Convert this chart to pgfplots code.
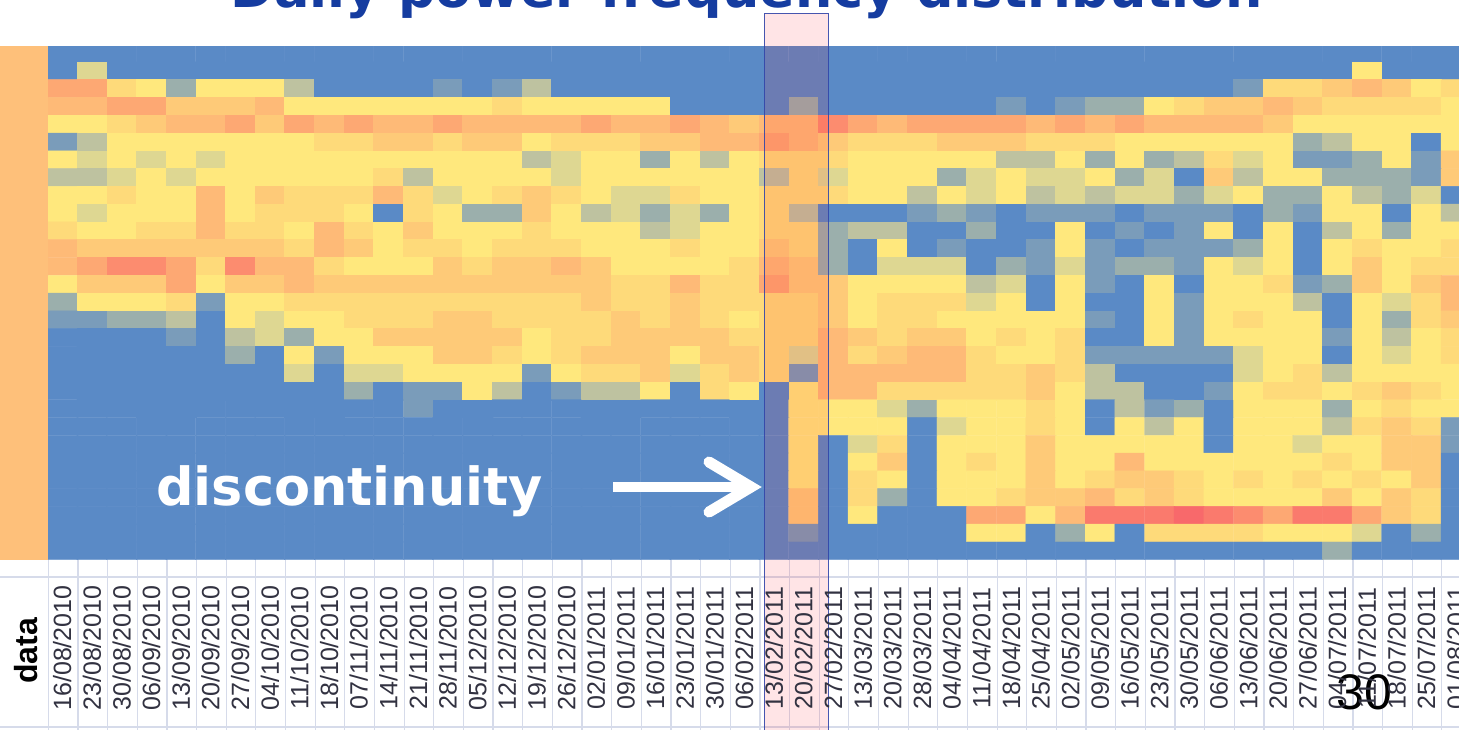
\documentclass[border=0pt]{standalone}
\usepackage{fontspec}
\usepackage{pgfplots}
\pgfplotsset{compat=1.18}
\setmainfont{Liberation Sans}
\newfontfamily\vd{DejaVu Sans}
\definecolor{titleblue}{RGB}{21,60,160}
\definecolor{band}{RGB}{254,192,122}
\definecolor{gridc}{RGB}{214,219,234}
\definecolor{hlfill}{RGB}{255,12,30}
\definecolor{hlline}{RGB}{50,70,170}
\definecolor{datec}{RGB}{50,50,65}
\begin{document}
\begin{tikzpicture}
\path[use as bounding box, clip] (0,0) rectangle (1459pt,730pt);
\begin{axis}[
  scale only axis, width=1459pt, height=730pt,
  xmin=0, xmax=1459, ymin=0, ymax=730, y dir=reverse,
  axis line style={draw=none}, major tick length=0pt,
  xtick={48.3,77.95,...,1459}, ytick={577,727}, xticklabels={}, yticklabels={},
  xmajorgrids, ymajorgrids, grid style={gridc, line width=1.2pt},
  colormap={excel}{rgb255=(90,138,198) rgb255=(122,156,186) rgb255=(155,175,172)
    rgb255=(190,194,160) rgb255=(222,215,146) rgb255=(255,232,125) rgb255=(254,218,122)
    rgb255=(254,202,120) rgb255=(254,186,119) rgb255=(253,168,115) rgb255=(252,140,111)
    rgb255=(250,122,109) rgb255=(248,105,107)},
  point meta min=0, point meta max=12,
]
% heat map, one line per power bin, 48 weeks
\addplot[matrix plot*, mesh/cols=48, point meta=explicit] table[row sep=crcr, header=false,
  x expr={62.3+29.65*mod(\coordindex,48)}, y expr={53+17.78*floor((\coordindex+0.5)/48)}, meta index=0] {
0\\0\\0\\0\\0\\0\\0\\0\\0\\0\\0\\0\\0\\0\\0\\0\\0\\0\\0\\0\\0\\0\\0\\0\\0\\0\\0\\0\\0\\0\\0\\0\\0\\0\\0\\0\\0\\0\\0\\0\\0\\0\\0\\0\\0\\0\\0\\0\\
0\\4\\0\\0\\0\\0\\0\\0\\0\\0\\0\\0\\0\\0\\0\\0\\0\\0\\0\\0\\0\\0\\0\\0\\0\\0\\0\\0\\0\\0\\0\\0\\0\\0\\0\\0\\0\\0\\0\\0\\0\\0\\0\\0\\5\\0\\0\\0\\
9\\9\\6\\5\\2\\5\\5\\5\\3\\0\\0\\0\\0\\1\\0\\1\\3\\0\\0\\0\\0\\0\\0\\0\\0\\0\\0\\0\\0\\0\\0\\0\\0\\0\\0\\0\\0\\0\\0\\0\\1\\6\\6\\7\\8\\7\\5\\6\\
8\\8\\9\\9\\7\\7\\7\\8\\5\\5\\5\\5\\5\\5\\5\\6\\5\\5\\5\\5\\5\\0\\0\\0\\0\\2\\0\\0\\0\\0\\0\\0\\1\\0\\1\\2\\2\\5\\6\\7\\7\\8\\7\\6\\6\\6\\6\\5\\
5\\5\\6\\7\\8\\8\\9\\7\\9\\8\\9\\8\\8\\9\\8\\8\\8\\8\\9\\8\\8\\9\\8\\7\\8\\8\\10\\9\\8\\9\\9\\9\\9\\8\\9\\8\\9\\8\\8\\8\\8\\7\\5\\5\\5\\5\\5\\5\\
1\\3\\5\\5\\5\\5\\5\\5\\5\\6\\6\\7\\7\\6\\7\\7\\5\\6\\6\\6\\7\\7\\8\\8\\9\\8\\7\\6\\6\\6\\7\\7\\7\\6\\6\\6\\5\\5\\5\\5\\5\\5\\2\\3\\5\\5\\0\\5\\
5\\4\\5\\4\\5\\4\\5\\5\\5\\5\\5\\5\\5\\5\\5\\5\\3\\4\\5\\5\\2\\5\\3\\5\\6\\6\\6\\5\\5\\5\\5\\5\\3\\3\\5\\2\\5\\2\\3\\6\\4\\5\\1\\1\\2\\5\\1\\7\\
3\\3\\4\\5\\4\\5\\5\\5\\5\\5\\5\\6\\3\\5\\5\\5\\5\\4\\5\\5\\5\\5\\5\\5\\3\\6\\4\\5\\5\\5\\2\\4\\5\\4\\4\\5\\2\\4\\0\\7\\3\\5\\5\\2\\2\\2\\1\\7\\
5\\5\\6\\5\\5\\8\\5\\7\\6\\6\\6\\8\\6\\4\\5\\6\\7\\6\\5\\4\\4\\6\\5\\5\\6\\6\\6\\5\\5\\3\\5\\4\\5\\3\\4\\3\\4\\4\\2\\4\\5\\2\\2\\5\\3\\2\\4\\0\\
5\\4\\5\\5\\5\\8\\5\\6\\6\\6\\5\\0\\6\\5\\2\\2\\7\\5\\3\\4\\2\\4\\2\\5\\6\\3\\0\\0\\0\\1\\2\\1\\0\\1\\1\\1\\0\\1\\1\\1\\0\\2\\1\\5\\5\\0\\5\\3\\
6\\5\\5\\6\\6\\8\\6\\6\\5\\8\\6\\5\\7\\5\\5\\5\\6\\5\\5\\5\\3\\4\\5\\5\\6\\6\\2\\3\\3\\0\\0\\2\\0\\0\\5\\0\\1\\0\\1\\5\\0\\5\\0\\3\\5\\2\\5\\5\\
8\\7\\7\\7\\7\\7\\7\\7\\6\\8\\7\\5\\6\\6\\5\\6\\6\\6\\5\\5\\5\\6\\5\\5\\7\\6\\2\\0\\5\\0\\1\\0\\0\\1\\5\\1\\0\\1\\1\\1\\2\\5\\0\\5\\6\\5\\5\\6\\
8\\9\\10\\10\\9\\6\\10\\8\\8\\6\\5\\5\\5\\7\\6\\7\\7\\8\\7\\5\\5\\5\\5\\6\\8\\7\\2\\0\\4\\4\\4\\0\\2\\1\\4\\1\\2\\2\\1\\5\\4\\5\\0\\5\\7\\5\\6\\6\\
5\\7\\7\\7\\9\\5\\7\\7\\8\\7\\7\\7\\7\\7\\7\\7\\7\\7\\7\\6\\6\\8\\6\\6\\9\\7\\7\\5\\5\\5\\5\\3\\4\\0\\5\\1\\0\\5\\0\\5\\5\\6\\1\\2\\7\\5\\7\\8\\
2\\5\\5\\5\\6\\1\\5\\5\\6\\6\\6\\6\\6\\6\\6\\6\\6\\6\\7\\6\\6\\7\\6\\6\\6\\6\\7\\5\\6\\6\\6\\4\\5\\0\\5\\0\\0\\5\\1\\5\\5\\5\\3\\0\\5\\4\\6\\8\\
1\\1\\2\\2\\3\\0\\5\\4\\5\\5\\6\\6\\6\\7\\7\\6\\6\\6\\6\\7\\6\\7\\6\\5\\6\\6\\7\\5\\6\\6\\5\\5\\5\\5\\5\\1\\0\\5\\1\\5\\6\\5\\5\\0\\5\\2\\6\\7\\
0\\0\\0\\0\\1\\0\\3\\4\\2\\5\\5\\7\\7\\7\\7\\7\\5\\6\\6\\7\\7\\7\\7\\6\\6\\6\\8\\7\\6\\7\\7\\5\\6\\5\\6\\0\\0\\5\\1\\5\\5\\5\\5\\1\\5\\3\\5\\6\\
0\\0\\0\\0\\0\\0\\2\\0\\5\\1\\5\\5\\5\\7\\7\\6\\5\\6\\7\\7\\7\\5\\7\\7\\6\\4\\8\\6\\7\\8\\8\\6\\5\\5\\6\\1\\1\\1\\1\\1\\4\\5\\5\\0\\5\\4\\5\\6\\
0\\0\\0\\0\\0\\0\\0\\0\\4\\0\\4\\4\\5\\5\\5\\5\\1\\5\\6\\6\\7\\4\\6\\7\\6\\1\\8\\8\\8\\8\\8\\6\\6\\7\\6\\3\\0\\0\\0\\0\\4\\5\\6\\3\\5\\5\\5\\5\\
0\\0\\0\\0\\0\\0\\0\\0\\0\\0\\2\\0\\1\\1\\5\\3\\0\\1\\3\\3\\5\\0\\6\\5\\0\\5\\8\\8\\6\\6\\6\\6\\6\\7\\5\\3\\3\\0\\0\\1\\5\\6\\6\\5\\6\\7\\6\\5\\
0\\0\\0\\0\\0\\0\\0\\0\\0\\0\\0\\0\\1\\0\\0\\0\\0\\0\\0\\0\\0\\0\\0\\0\\0\\5\\5\\5\\4\\2\\5\\5\\5\\6\\5\\0\\3\\1\\2\\0\\5\\5\\5\\2\\5\\6\\5\\5\\
0\\0\\0\\0\\0\\0\\0\\0\\0\\0\\0\\0\\0\\0\\0\\0\\0\\0\\0\\0\\0\\0\\0\\0\\0\\5\\5\\5\\5\\0\\4\\5\\5\\6\\5\\0\\5\\3\\5\\0\\5\\5\\5\\3\\6\\7\\6\\1\\
0\\0\\0\\0\\0\\0\\0\\0\\0\\0\\0\\0\\0\\0\\0\\0\\0\\0\\0\\0\\0\\0\\0\\0\\0\\5\\0\\4\\6\\0\\5\\5\\5\\7\\5\\5\\5\\5\\5\\0\\5\\5\\4\\5\\5\\7\\7\\1\\
0\\0\\0\\0\\0\\0\\0\\0\\0\\0\\0\\0\\0\\0\\0\\0\\0\\0\\0\\0\\0\\0\\0\\0\\0\\5\\0\\5\\7\\0\\5\\6\\5\\7\\5\\5\\8\\5\\5\\5\\5\\5\\5\\6\\5\\7\\7\\0\\
0\\0\\0\\0\\0\\0\\0\\0\\0\\0\\0\\0\\0\\0\\0\\0\\0\\0\\0\\0\\0\\0\\0\\0\\0\\5\\0\\6\\5\\0\\5\\5\\5\\7\\5\\6\\7\\7\\6\\5\\6\\5\\6\\5\\6\\5\\7\\0\\
0\\0\\0\\0\\0\\0\\0\\0\\0\\0\\0\\0\\0\\0\\0\\0\\0\\0\\0\\0\\0\\0\\0\\0\\0\\7\\0\\6\\2\\0\\5\\5\\6\\7\\7\\8\\6\\7\\6\\5\\5\\5\\5\\7\\5\\7\\6\\0\\
0\\0\\0\\0\\0\\0\\0\\0\\0\\0\\0\\0\\0\\0\\0\\0\\0\\0\\0\\0\\0\\0\\0\\0\\0\\7\\0\\5\\0\\0\\0\\9\\9\\5\\8\\11\\11\\11\\12\\11\\10\\9\\11\\11\\9\\7\\6\\0\\
0\\0\\0\\0\\0\\0\\0\\0\\0\\0\\0\\0\\0\\0\\0\\0\\0\\0\\0\\0\\0\\0\\0\\0\\0\\1\\0\\0\\0\\0\\0\\5\\5\\0\\2\\5\\0\\6\\6\\6\\6\\5\\5\\5\\4\\0\\2\\0\\
0\\0\\0\\0\\0\\0\\0\\0\\0\\0\\0\\0\\0\\0\\0\\0\\0\\0\\0\\0\\0\\0\\0\\0\\0\\0\\0\\0\\0\\0\\0\\0\\0\\0\\0\\0\\0\\0\\0\\0\\0\\0\\0\\2\\0\\0\\0\\0\\
};
\fill[white] (0,0) rectangle (1459,46);
\fill[band] (0,46) rectangle (47.5,559.8);
% week labels under the map
\addplot[draw=none, mark=none, point meta=explicit symbolic, nodes near coords,
  every node near coord/.style={rotate=90, anchor=center, inner sep=0pt, text=datec,
    font=\fontsize{25}{25}\selectfont}]
  table[header=false, x expr={62.3+29.65*\coordindex}, y expr=648, meta index=0] {
16/08/2010
23/08/2010
30/08/2010
06/09/2010
13/09/2010
20/09/2010
27/09/2010
04/10/2010
11/10/2010
18/10/2010
07/11/2010
14/11/2010
21/11/2010
28/11/2010
05/12/2010
12/12/2010
19/12/2010
26/12/2010
02/01/2011
09/01/2011
16/01/2011
23/01/2011
30/01/2011
06/02/2011
13/02/2011
20/02/2011
27/02/2011
13/03/2011
20/03/2011
28/03/2011
04/04/2011
11/04/2011
18/04/2011
25/04/2011
02/05/2011
09/05/2011
16/05/2011
23/05/2011
30/05/2011
06/06/2011
13/06/2011
20/06/2011
27/06/2011
04/07/2011
11/07/2011
18/07/2011
25/07/2011
01/08/2011
};
\node[rotate=90, inner sep=0pt, text=black, font=\fontsize{32}{32}\selectfont\bfseries] at (26,651) {data};
\fill[hlfill, fill opacity=0.11] (764.3,13.5) rectangle (828.3,740);
\draw[hlline, line width=1.1pt, opacity=0.9] (764.3,740) -- (764.3,13.5) -- (828.3,13.5) -- (828.3,740);
\node[anchor=base, inner sep=0pt, text=titleblue, font=\vd\fontsize{52.5}{60}\selectfont\bfseries] at (747,8) {Daily power frequency distribution};
\node[anchor=base west, inner sep=0pt, text=white, font=\vd\fontsize{52.5}{60}\selectfont\bfseries] at (156,505) {discontinuity};
\draw[white, line width=10.7pt] (613,487) -- (745,487);
\draw[white, line width=11pt, line cap=round, miter limit=10] (709,462) -- (751,487) -- (709,512);
\node[anchor=base, inner sep=0pt, text=black, font=\fontsize{50}{50}\selectfont] at (1364,709) {30};
\end{axis}
\end{tikzpicture}
\end{document}
